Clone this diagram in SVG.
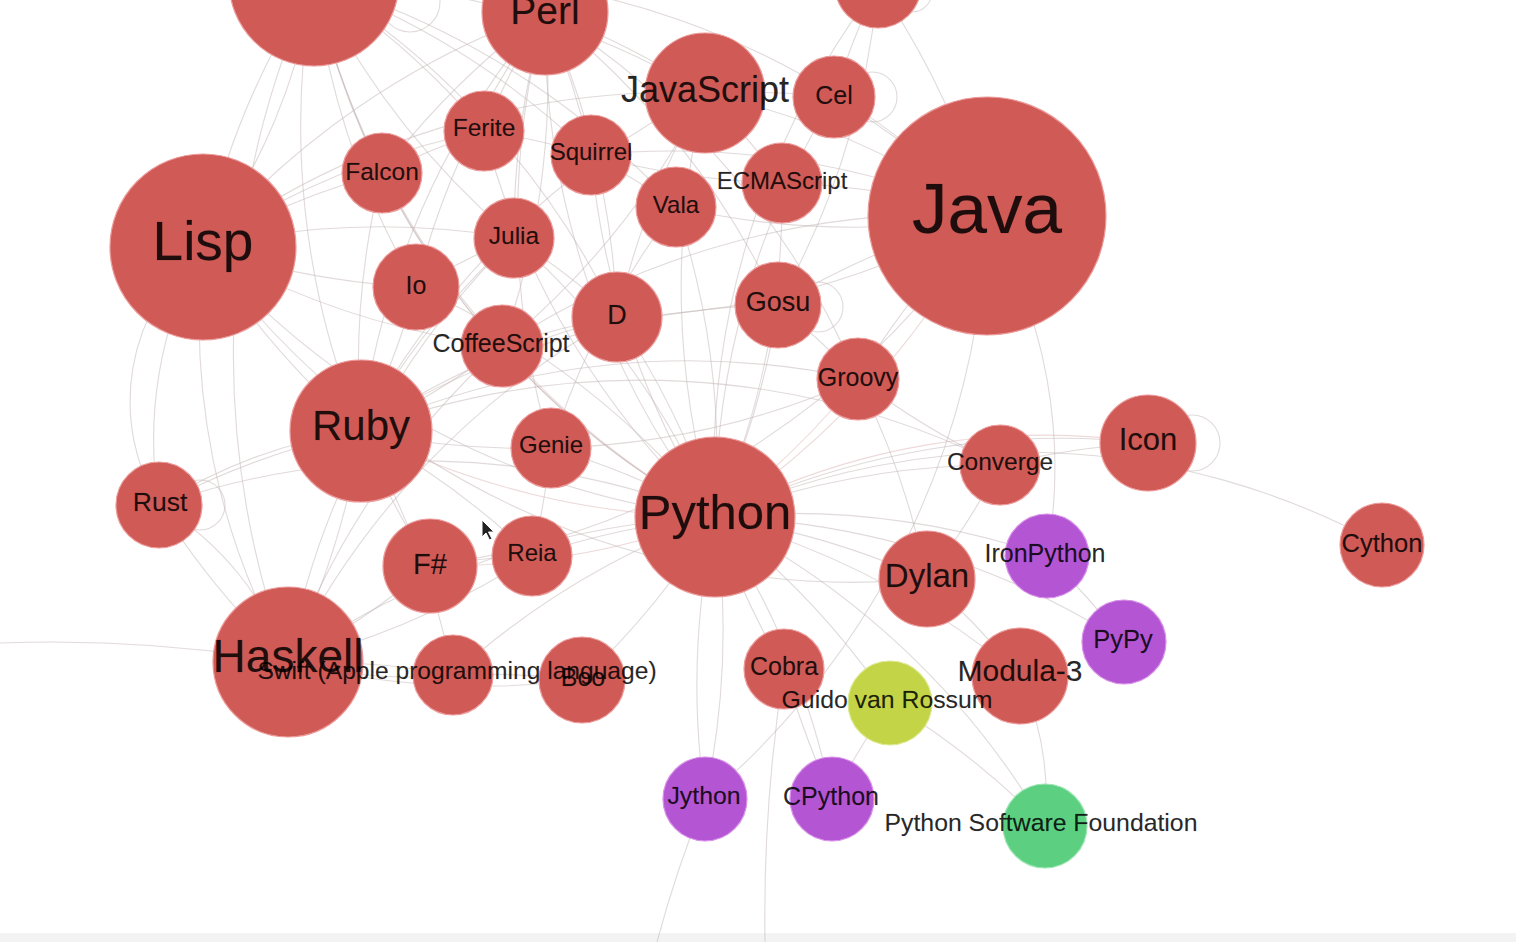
<svg xmlns="http://www.w3.org/2000/svg" width="1516" height="942" viewBox="0 0 1516 942">
<style>
.e{fill:none;stroke:#c4b6b6;stroke-opacity:0.5;stroke-width:1.1}
.ep{fill:none;stroke:#d9aaaa;stroke-opacity:0.45;stroke-width:1.1}
.n{fill:#d05a56;stroke:#ec9a9a;stroke-width:1.2}
.pu{fill:#b455d4;stroke:#d890e8;stroke-width:1.2}
.yg{fill:#c3d446;stroke:#dde890;stroke-width:1.2}
.gr{fill:#5ccf80;stroke:#9be6b2;stroke-width:1.2}
text{font-family:"Liberation Sans",Arial,Helvetica,sans-serif;fill:#000;fill-opacity:0.86;stroke:#000;stroke-opacity:0.25;stroke-width:0.4;text-anchor:middle}
</style>
<rect width="1516" height="942" fill="#ffffff"/>
<rect y="933" width="1516" height="9" fill="#f3f3f3"/>
<g id="connectors">
<path class="e" d="M715,517 A800,800 0 0,1 203,247"/>
<path class="e" d="M715,517 A800,800 0 0,0 288,662"/>
<path class="ep" d="M715,517 A800,800 0 0,0 987,216"/>
<path class="e" d="M715,517 A800,800 0 0,1 545,12"/>
<path class="e" d="M715,517 A800,800 0 0,1 1148,443"/>
<path class="ep" d="M715,517 A700,700 0 0,1 1148,443"/>
<path class="e" d="M715,517 A800,800 0 0,1 1020,676"/>
<path class="e" d="M715,517 A800,800 0 0,1 927,579"/>
<path class="e" d="M715,517 A800,800 0 0,1 582,680"/>
<path class="e" d="M715,517 A800,800 0 0,0 784,669"/>
<path class="ep" d="M715,517 A800,800 0 0,1 502,346"/>
<path class="e" d="M715,517 A800,800 0 0,0 617,317"/>
<path class="e" d="M715,517 A800,800 0 0,1 382,173"/>
<path class="e" d="M715,517 A800,800 0 0,0 551,448"/>
<path class="ep" d="M715,517 A800,800 0 0,0 858,379"/>
<path class="e" d="M715,517 A800,800 0 0,1 705,93"/>
<path class="e" d="M715,517 A800,800 0 0,0 514,238"/>
<path class="ep" d="M715,517 A800,800 0 0,1 361,431"/>
<path class="e" d="M715,517 A800,800 0 0,0 453,675"/>
<path class="e" d="M715,517 A800,800 0 0,1 1000,465"/>
<path class="e" d="M715,517 A750,750 0 0,1 1382,545"/>
<path class="e" d="M715,517 A800,800 0 0,1 1047,556"/>
<path class="e" d="M715,517 A800,800 0 0,1 1124,642"/>
<path class="e" d="M715,517 A800,800 0 0,0 705,799"/>
<path class="e" d="M715,517 A800,800 0 0,1 705,799"/>
<path class="e" d="M715,517 A800,800 0 0,1 832,799"/>
<path class="e" d="M715,517 A800,800 0 0,1 890,703"/>
<path class="e" d="M715,517 A800,800 0 0,1 1045,826"/>
<path class="e" d="M715,517 A800,800 0 0,0 782,183"/>
<path class="ep" d="M715,517 A800,800 0 0,1 430,566"/>
<path class="e" d="M715,517 A800,800 0 0,1 591,155"/>
<path class="e" d="M715,517 A800,800 0 0,0 676,207"/>
<path class="e" d="M715,517 A800,800 0 0,0 778,305"/>
<path class="e" d="M715,517 A800,800 0 0,0 532,556"/>
<path class="e" d="M715,517 A800,800 0 0,1 484,131"/>
<path class="e" d="M715,517 A800,800 0 0,1 314,-19"/>
<path class="e" d="M715,517 A800,800 0 0,0 416,287"/>
<path class="e" d="M715,517 A800,800 0 0,0 159,505"/>
<path class="e" d="M715,517 A800,800 0 0,1 834,97"/>
<path class="e" d="M715,517 A800,800 0 0,1 878,-15"/>
<path class="e" d="M203,247 A800,800 0 0,0 361,431"/>
<path class="e" d="M203,247 A800,800 0 0,1 545,12"/>
<path class="e" d="M203,247 A800,800 0 0,1 314,-19"/>
<path class="e" d="M203,247 A600,600 0 0,0 314,-19"/>
<path class="e" d="M203,247 A800,800 0 0,1 705,93"/>
<path class="e" d="M203,247 A800,800 0 0,1 382,173"/>
<path class="e" d="M203,247 A800,800 0 0,0 416,287"/>
<path class="e" d="M203,247 A800,800 0 0,1 514,238"/>
<path class="e" d="M203,247 A800,800 0 0,0 927,579"/>
<path class="e" d="M203,247 A700,700 0 0,0 288,662"/>
<path class="e" d="M203,247 A200,200 0 0,0 159,505"/>
<path class="e" d="M203,247 A400,400 0 0,0 159,505"/>
<path class="e" d="M203,247 A800,800 0 0,0 502,346"/>
<path class="e" d="M203,247 A800,800 0 0,1 484,131"/>
<path class="e" d="M545,12 A800,800 0 0,0 361,431"/>
<path class="e" d="M545,12 A800,800 0 0,1 705,93"/>
<path class="e" d="M545,12 A800,800 0 0,0 382,173"/>
<path class="e" d="M545,12 A800,800 0 0,0 484,131"/>
<path class="e" d="M545,12 A800,800 0 0,1 502,346"/>
<path class="e" d="M545,12 A800,800 0 0,0 514,238"/>
<path class="e" d="M545,12 A800,800 0 0,0 416,287"/>
<path class="e" d="M545,12 A800,800 0 0,1 858,379"/>
<path class="e" d="M545,12 A800,800 0 0,0 314,-19"/>
<path class="e" d="M545,12 A800,800 0 0,1 591,155"/>
<path class="e" d="M545,12 A800,800 0 0,1 778,305"/>
<path class="e" d="M545,12 A800,800 0 0,1 617,317"/>
<path class="e" d="M545,12 A800,800 0 0,0 551,448"/>
<path class="e" d="M314,-19 A800,800 0 0,0 361,431"/>
<path class="e" d="M314,-19 A800,800 0 0,1 484,131"/>
<path class="e" d="M314,-19 A800,800 0 0,0 382,173"/>
<path class="e" d="M314,-19 A800,800 0 0,0 416,287"/>
<path class="e" d="M314,-19 A800,800 0 0,1 987,216"/>
<path class="e" d="M314,-19 A800,800 0 0,1 705,93"/>
<path class="e" d="M314,-19 A800,800 0 0,1 591,155"/>
<path class="e" d="M314,-19 A800,800 0 0,1 617,317"/>
<path class="e" d="M314,-19 A800,800 0 0,0 514,238"/>
<path class="e" d="M314,-19 A800,800 0 0,1 676,207"/>
<path class="e" d="M314,-19 A800,800 0 0,0 502,346"/>
<path class="e" d="M314,-19 A900,900 0 0,0 288,662"/>
<path class="e" d="M361,431 A800,800 0 0,1 288,662"/>
<path class="e" d="M361,431 A800,800 0 0,0 159,505"/>
<path class="e" d="M361,431 A500,500 0 0,0 159,505"/>
<path class="e" d="M361,431 A800,800 0 0,1 453,675"/>
<path class="e" d="M361,431 A800,800 0 0,0 502,346"/>
<path class="e" d="M361,431 A800,800 0 0,1 382,173"/>
<path class="e" d="M361,431 A800,800 0 0,1 858,379"/>
<path class="e" d="M361,431 A800,800 0 0,0 416,287"/>
<path class="e" d="M361,431 A800,800 0 0,1 514,238"/>
<path class="e" d="M361,431 A800,800 0 0,1 532,556"/>
<path class="e" d="M361,431 A800,800 0 0,1 617,317"/>
<path class="e" d="M361,431 A800,800 0 0,0 551,448"/>
<path class="e" d="M361,431 A800,800 0 0,1 778,305"/>
<path class="e" d="M361,431 A800,800 0 0,1 1000,465"/>
<path class="e" d="M361,431 A800,800 0 0,0 430,566"/>
<path class="e" d="M361,431 A800,800 0 0,1 705,93"/>
<path class="e" d="M288,662 A1400,1400 0 0,0 0,643"/>
<path class="e" d="M288,662 A800,800 0 0,1 159,505"/>
<path class="e" d="M288,662 A300,300 0 0,0 159,505"/>
<path class="e" d="M288,662 A800,800 0 0,1 453,675"/>
<path class="e" d="M288,662 A500,500 0 0,0 453,675"/>
<path class="e" d="M288,662 A800,800 0 0,0 430,566"/>
<path class="e" d="M288,662 A800,800 0 0,1 502,346"/>
<path class="e" d="M288,662 A800,800 0 0,0 582,680"/>
<path class="e" d="M288,662 A800,800 0 0,1 514,238"/>
<path class="e" d="M288,662 A800,800 0 0,1 617,317"/>
<path class="e" d="M288,662 A800,800 0 0,0 532,556"/>
<path class="e" d="M987,216 A800,800 0 0,0 705,93"/>
<path class="e" d="M987,216 A800,800 0 0,0 858,379"/>
<path class="e" d="M987,216 A800,800 0 0,0 778,305"/>
<path class="e" d="M987,216 A800,800 0 0,0 834,97"/>
<path class="e" d="M987,216 A800,800 0 0,0 782,183"/>
<path class="e" d="M987,216 A800,800 0 0,1 676,207"/>
<path class="e" d="M987,216 A800,800 0 0,1 617,317"/>
<path class="e" d="M987,216 A500,500 0 0,1 1047,556"/>
<path class="e" d="M987,216 A800,800 0 0,1 705,799"/>
<path class="e" d="M987,216 A800,800 0 0,0 878,-15"/>
<path class="e" d="M987,216 A800,800 0 0,1 430,566"/>
<path class="e" d="M987,216 A800,800 0 0,0 591,155"/>
<path class="e" d="M987,216 A800,800 0 0,0 502,346"/>
<path class="e" d="M1148,443 A800,800 0 0,0 1000,465"/>
<path class="e" d="M1020,676 A300,300 0 0,1 1045,826"/>
<path class="e" d="M1020,676 A800,800 0 0,0 927,579"/>
<path class="e" d="M1047,556 A800,800 0 0,1 1124,642"/>
<path class="e" d="M890,703 A800,800 0 0,1 1045,826"/>
<path class="e" d="M832,799 A800,800 0 0,1 890,703"/>
<path class="e" d="M832,799 A1200,1200 0 0,1 784,669"/>
<path class="e" d="M705,799 A1200,1200 0 0,0 657,942"/>
<path class="e" d="M784,669 A1600,1600 0 0,0 765,942"/>
<path class="e" d="M484,131 A800,800 0 0,1 591,155"/>
<path class="e" d="M382,173 A800,800 0 0,1 484,131"/>
<path class="e" d="M514,238 A800,800 0 0,0 416,287"/>
<path class="e" d="M617,317 A800,800 0 0,0 502,346"/>
<path class="e" d="M676,207 A800,800 0 0,0 551,448"/>
<path class="e" d="M782,183 A800,800 0 0,0 705,93"/>
<path class="e" d="M834,97 A800,800 0 0,0 705,93"/>
<path class="e" d="M778,305 A800,800 0 0,1 858,379"/>
<path class="e" d="M591,155 A800,800 0 0,1 676,207"/>
<path class="e" d="M514,238 A800,800 0 0,1 617,317"/>
<path class="e" d="M532,556 A800,800 0 0,0 551,448"/>
<path class="e" d="M430,566 A800,800 0 0,1 532,556"/>
<path class="e" d="M582,680 A800,800 0 0,0 453,675"/>
<path class="e" d="M927,579 A800,800 0 0,0 1000,465"/>
<path class="e" d="M705,93 A800,800 0 0,1 502,346"/>
<path class="e" d="M705,93 A800,800 0 0,0 617,317"/>
<path class="e" d="M782,183 A800,800 0 0,1 591,155"/>
<path class="e" d="M858,379 A800,800 0 0,1 551,448"/>
<path class="e" d="M1000,465 A800,800 0 0,1 858,379"/>
<path class="e" d="M927,579 A800,800 0 0,0 858,379"/>
<path class="e" d="M878,-15 A800,800 0 0,0 834,97"/>
<path class="e" d="M878,-15 A800,800 0 0,1 778,305"/>
<circle class="e" cx="410" cy="2" r="30"/>
<circle class="e" cx="912" cy="-8" r="20"/>
<circle class="e" cx="872" cy="97" r="25"/>
<circle class="e" cx="818" cy="307" r="25"/>
<circle class="e" cx="1192" cy="443" r="28"/>
<circle class="e" cx="200" cy="505" r="25"/>
</g>
<g id="nodes">
<g id="n-tl"><circle class="n" cx="314" cy="-19" r="85"/></g>
<g id="n-tr"><circle class="n" cx="878" cy="-15" r="43"/></g>
<g id="n-perl"><circle class="n" cx="545" cy="12" r="63"/><text x="545" y="12" dy="0.3em" font-size="39">Perl</text></g>
<g id="n-javascript"><circle class="n" cx="705" cy="93" r="60"/><text x="705" y="91" dy="0.3em" font-size="36">JavaScript</text></g>
<g id="n-cel"><circle class="n" cx="834" cy="97" r="41"/><text x="834" y="96" dy="0.3em" font-size="25">Cel</text></g>
<g id="n-ferite"><circle class="n" cx="484" cy="131" r="40"/><text x="484" y="129" dy="0.3em" font-size="24.5">Ferite</text></g>
<g id="n-squirrel"><circle class="n" cx="591" cy="155" r="40"/><text x="591" y="153" dy="0.3em" font-size="24">Squirrel</text></g>
<g id="n-falcon"><circle class="n" cx="382" cy="173" r="40"/><text x="382" y="173" dy="0.3em" font-size="24.5">Falcon</text></g>
<g id="n-vala"><circle class="n" cx="676" cy="207" r="40"/><text x="676" y="206" dy="0.3em" font-size="24">Vala</text></g>
<g id="n-ecmascript"><circle class="n" cx="782" cy="183" r="40"/><text x="782" y="182" dy="0.3em" font-size="24">ECMAScript</text></g>
<g id="n-java"><circle class="n" cx="987" cy="216" r="119"/><text x="987" y="212" dy="0.3em" font-size="71">Java</text></g>
<g id="n-lisp"><circle class="n" cx="203" cy="247" r="93"/><text x="203" y="243" dy="0.3em" font-size="55">Lisp</text></g>
<g id="n-julia"><circle class="n" cx="514" cy="238" r="40"/><text x="514" y="237" dy="0.3em" font-size="24.5">Julia</text></g>
<g id="n-io"><circle class="n" cx="416" cy="287" r="43"/><text x="416" y="286" dy="0.3em" font-size="25">Io</text></g>
<g id="n-d"><circle class="n" cx="617" cy="317" r="45"/><text x="617" y="316" dy="0.3em" font-size="27">D</text></g>
<g id="n-coffeescript"><circle class="n" cx="502" cy="346" r="41"/><text x="501" y="344" dy="0.3em" font-size="25">CoffeeScript</text></g>
<g id="n-gosu"><circle class="n" cx="778" cy="305" r="43"/><text x="778" y="303" dy="0.3em" font-size="27">Gosu</text></g>
<g id="n-groovy"><circle class="n" cx="858" cy="379" r="41"/><text x="858" y="378" dy="0.3em" font-size="25">Groovy</text></g>
<g id="n-ruby"><circle class="n" cx="361" cy="431" r="71"/><text x="361" y="427" dy="0.3em" font-size="42">Ruby</text></g>
<g id="n-genie"><circle class="n" cx="551" cy="448" r="40"/><text x="551" y="446" dy="0.3em" font-size="24">Genie</text></g>
<g id="n-python"><circle class="n" cx="715" cy="517" r="80"/><text x="715" y="514" dy="0.3em" font-size="49">Python</text></g>
<g id="n-converge"><circle class="n" cx="1000" cy="465" r="40"/><text x="1000" y="463" dy="0.3em" font-size="24.5">Converge</text></g>
<g id="n-icon"><circle class="n" cx="1148" cy="443" r="48"/><text x="1148" y="441" dy="0.3em" font-size="31">Icon</text></g>
<g id="n-rust"><circle class="n" cx="159" cy="505" r="43"/><text x="160" y="503" dy="0.3em" font-size="26.5">Rust</text></g>
<g id="n-fsharp"><circle class="n" cx="430" cy="566" r="47"/><text x="430" y="565" dy="0.3em" font-size="29">F#</text></g>
<g id="n-reia"><circle class="n" cx="532" cy="556" r="40"/><text x="532" y="554" dy="0.3em" font-size="24">Reia</text></g>
<g id="n-dylan"><circle class="n" cx="927" cy="579" r="48"/><text x="927" y="577" dy="0.3em" font-size="33">Dylan</text></g>
<g id="n-ironpython"><circle class="pu" cx="1047" cy="556" r="42"/><text x="1045" y="554" dy="0.3em" font-size="25">IronPython</text></g>
<g id="n-cython"><circle class="n" cx="1382" cy="545" r="42"/><text x="1382" y="544" dy="0.3em" font-size="25.5">Cython</text></g>
<g id="n-pypy"><circle class="pu" cx="1124" cy="642" r="42"/><text x="1123" y="640" dy="0.3em" font-size="25.5">PyPy</text></g>
<g id="n-haskell"><circle class="n" cx="288" cy="662" r="75"/><text x="288" y="658" dy="0.3em" font-size="46">Haskell</text></g>
<g id="n-boo"><circle class="n" cx="582" cy="680" r="43"/><text x="583" y="678" dy="0.3em" font-size="25">Boo</text></g>
<g id="n-swift"><circle class="n" cx="453" cy="675" r="40"/><text x="457" y="672" dy="0.3em" font-size="24.6">Swift (Apple programming language)</text></g>
<g id="n-cobra"><circle class="n" cx="784" cy="669" r="40"/><text x="784" y="667" dy="0.3em" font-size="25">Cobra</text></g>
<g id="n-modula3"><circle class="n" cx="1020" cy="676" r="48"/><text x="1020" y="672" dy="0.3em" font-size="30">Modula-3</text></g>
<g id="n-guido"><circle class="yg" cx="890" cy="703" r="42"/><text x="887" y="701" dy="0.3em" font-size="24.8">Guido van Rossum</text></g>
<g id="n-jython"><circle class="pu" cx="705" cy="799" r="42"/><text x="704" y="797" dy="0.3em" font-size="24.8">Jython</text></g>
<g id="n-cpython"><circle class="pu" cx="832" cy="799" r="42"/><text x="831" y="797" dy="0.3em" font-size="25">CPython</text></g>
<g id="n-psf"><circle class="gr" cx="1045" cy="826" r="42"/><text x="1041" y="824" dy="0.3em" font-size="24.8">Python Software Foundation</text></g>
</g>
<path d="M482,520 l0,17 l4,-4 l3.5,7 l2.5,-1.2 l-3.5,-6.8 l5.5,0 z" fill="#222" stroke="#fff" stroke-width="1"/>
</svg>
